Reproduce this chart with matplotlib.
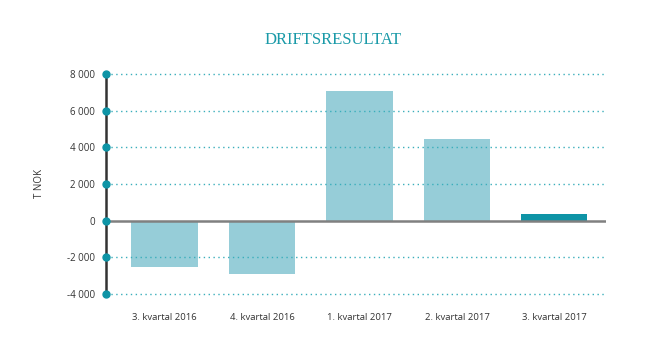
import matplotlib
matplotlib.use("Agg")
import matplotlib.pyplot as plt
from matplotlib.ticker import FuncFormatter

categories = ["3. kvartal 2016", "4. kvartal 2016", "1. kvartal 2017",
              "2. kvartal 2017", "3. kvartal 2017"]
values = [-2550, -2900, 7080, 4430, 380]
yticks = [-4000, -2000, 0, 2000, 4000, 6000, 8000]

light = "#96cdd8"
teal = "#0e94a6"
colors = [light, light, light, light, teal]

plt.rcParams["font.family"] = ["Open Sans", "DejaVu Sans"]

fig = plt.figure(figsize=(6.7, 3.5), dpi=100)
ax = fig.add_axes([0.1582, 0.16, 0.7463, 0.6286])

x = list(range(len(categories)))
ax.bar(x, values, width=0.68, color=colors, zorder=2)

ax.set_xlim(-0.6, 4.53)
ax.set_ylim(-4000, 8000)

# dotted teal gridlines (except at zero)
for t in yticks:
    if t != 0:
        ax.axhline(t, color="#3aaebb", lw=1.0, ls=(0, (1, 2.5)), zorder=3,
                   clip_on=False)
ax.axhline(0, color="#808080", lw=1.8, zorder=3)

# vertical axis line with dot markers
ax.plot([-0.6, -0.6], [-4000, 8000], color="#333333", lw=1.8, clip_on=False, zorder=4)
ax.plot([-0.6] * len(yticks), yticks, "o", color="#0e94a6", ms=5,
        clip_on=False, zorder=5)

for s in ax.spines.values():
    s.set_visible(False)

ax.set_yticks(yticks)
ax.yaxis.set_major_formatter(FuncFormatter(lambda v, p: f"{int(v):,}".replace(",", " ")))
ax.tick_params(axis="y", length=0, pad=8, labelsize=7, colors="#333333")
ax.set_xticks(x)
ax.set_xticklabels(categories)
ax.tick_params(axis="x", length=0, pad=14, labelsize=6.8, colors="#333333")

ax.set_ylabel("T NOK", fontsize=7, color="#333333", labelpad=16)

fig.text(0.497, 0.885, "DRIFTSRESULTAT", ha="center", va="center",
         fontsize=12, color="#1a9aa8", family="Liberation Serif")

fig.savefig("out.png", dpi=100)
